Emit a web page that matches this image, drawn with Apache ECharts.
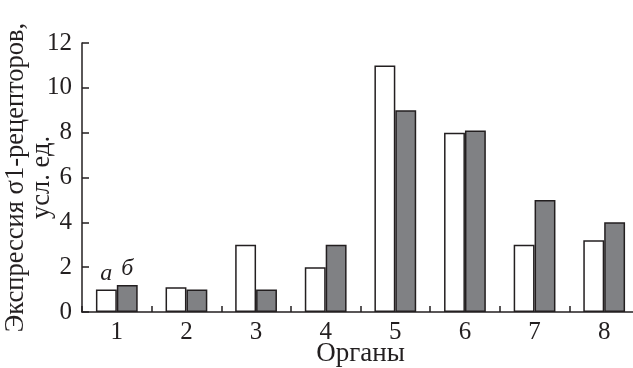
<!DOCTYPE html>
<html><head><meta charset="utf-8">
<script src="https://cdn.jsdelivr.net/npm/echarts@6/dist/echarts.min.js"></script>
<style>html,body{margin:0;padding:0;background:#fff}#c{width:633px;height:368px}</style>
</head><body><div id="c"></div>
<script>
const categories = ['1','2','3','4','5','6','7','8'];
const seriesA = [1.0, 1.1, 3.0, 2.0, 11.0, 8.0, 3.0, 3.2];
const seriesB = [1.2, 1.0, 1.0, 3.0, 9.0, 8.1, 5.0, 4.0];
const yTicks = [0, 2, 4, 6, 8, 10, 12];
const seriesLabels = ['а', 'б'];

const font = 'Liberation Serif';
const ink = '#231f20';
function withFirstLabel(arr, txt) {
  return arr.map((v, i) => i === 0 ? {value: v, label: {show: true, formatter: txt}} : v);
}
const chart = echarts.init(document.getElementById('c'), null, {renderer: 'canvas'});
chart.setOption({
  animation: false,
  grid: {left: 82, top: 43, bottom: 56, right: -6, containLabel: false, outerBoundsMode: 'none'},
  xAxis: {
    type: 'category', data: categories,
    name: 'Органы', nameLocation: 'middle', nameGap: 28, nameMoveOverlap: false,
    nameTextStyle: {fontFamily: font, fontSize: 27, color: ink},
    axisLine: {lineStyle: {color: ink, width: 1.5}},
    axisTick: {show: true, inside: true, length: 6, lineStyle: {color: ink, width: 1.5}},
    axisLabel: {fontFamily: font, fontSize: 25, color: ink, margin: 8}
  },
  yAxis: {
    type: 'value', min: 0, max: 12, interval: 2,
    name: 'Экспрессия σ1-рецепторов,\nусл. ед.', nameLocation: 'middle', nameGap: 27, nameRotate: 90,
    nameMoveOverlap: false,
    nameTextStyle: {fontFamily: font, fontSize: 26.5, color: ink, lineHeight: 26, align: 'center'},
    axisLine: {show: true, lineStyle: {color: ink, width: 1.5}},
    axisTick: {show: true, inside: true, length: 7, lineStyle: {color: ink, width: 1.5}},
    axisLabel: {fontFamily: font, fontSize: 25, color: ink, margin: 10,
      formatter: v => yTicks.includes(v) ? String(v) : ''},
    splitLine: {show: false}
  },
  series: [
    {type: 'bar', data: withFirstLabel(seriesA, seriesLabels[0]), barGap: '0%', barCategoryGap: '40%',
     itemStyle: {color: '#ffffff', borderColor: ink, borderWidth: 1.5},
     label: {show: false, position: 'top', distance: 4, fontFamily: font, fontStyle: 'italic', fontSize: 24, color: ink}},
    {type: 'bar', data: withFirstLabel(seriesB, seriesLabels[1]), barGap: '0%', barCategoryGap: '40%',
     itemStyle: {color: '#808184', borderColor: ink, borderWidth: 1.5},
     label: {show: false, position: 'top', distance: 4, fontFamily: font, fontStyle: 'italic', fontSize: 24, color: ink}}
  ]
});
</script></body></html>
